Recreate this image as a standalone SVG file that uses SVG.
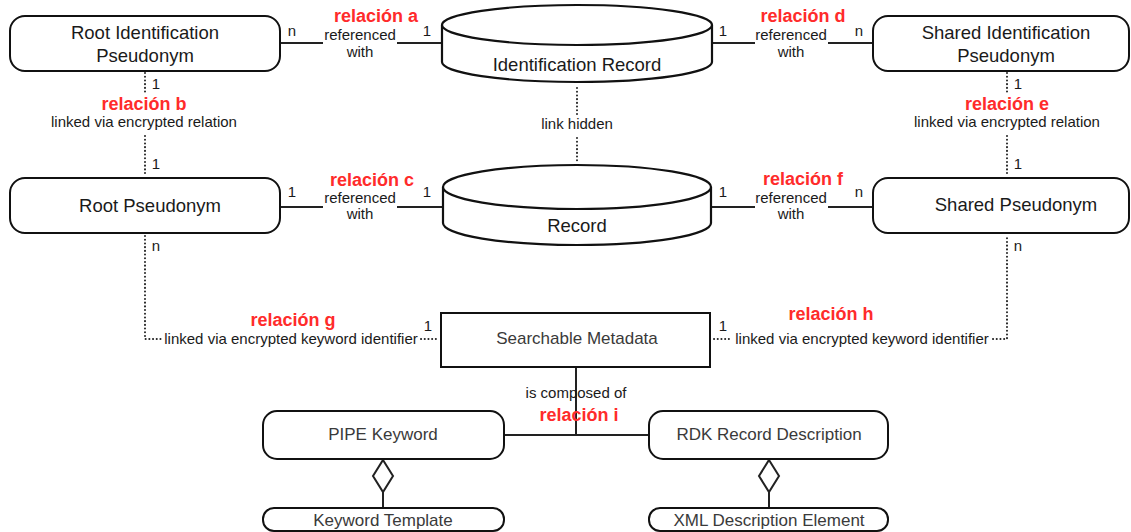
<svg xmlns="http://www.w3.org/2000/svg" width="1131" height="532" viewBox="0 0 1131 532">
  <style>
    .box { fill: #fff; stroke: #111; stroke-width: 2; }
    .cyl { fill: #fff; stroke: #111; stroke-width: 2.2; }
    .line { fill: none; stroke: #222; stroke-width: 2; }
    .dots { fill: none; stroke: #222; stroke-width: 2; stroke-dasharray: 0.1 3.6; stroke-linecap: round; }
    .name { font-family: "Liberation Sans", Arial, sans-serif; font-size: 18.5px; fill: #1a1a1a; text-anchor: middle; }
    .meta { font-family: "Liberation Sans", Arial, sans-serif; font-size: 17px; fill: #3a3a3a; text-anchor: middle; }
    .lbl { font-family: "Liberation Sans", Arial, sans-serif; font-size: 15px; fill: #1a1a1a; text-anchor: middle; }
    .card { font-family: "Liberation Sans", Arial, sans-serif; font-size: 15px; fill: #1a1a1a; text-anchor: middle; }
    .rel { font-family: "Liberation Sans", Arial, sans-serif; font-size: 18px; font-weight: bold; fill: #ff2b2b; text-anchor: middle; }
  </style>

  <!-- connectors -->
  <g id="connectors">
    <!-- referenced with -->
    <path class="line" d="M280 43 H323 M397 43 H442"/>
    <path class="line" d="M712 43 H755 M828 43 H873"/>
    <path class="line" d="M280 207 H323 M397 207 H443"/>
    <path class="line" d="M710 207 H755 M828 207 H873"/>
    <!-- encrypted relations -->
    <path class="dots" d="M145 73 V95 M145 136 V176"/>
    <path class="dots" d="M1007 73 V95 M1007 136 V176"/>
    <!-- hidden link -->
    <path class="dots" d="M577 88 V114 M577 138 V161"/>
    <!-- keyword identifiers -->
    <path class="dots" d="M145 236 V339 H161 M421 339 H438"/>
    <path class="dots" d="M714 339 H730 M993 339 H1007 V236"/>
    <!-- composition -->
    <path class="line" d="M576 367 V435 M504 435 H649"/>
    <!-- aggregation -->
    <path class="line" d="M383 492 V508 M769 492 V508"/>
    <path class="line" fill="#fff" d="M383 460 L393 476 L383 492 L373 476 Z"/>
    <path class="line" fill="#fff" d="M769 460 L779 476 L769 492 L759 476 Z"/>
  </g>

  <!-- connector labels -->
  <g id="labels">
    <text class="rel" x="376" y="22">relación a</text>
    <text class="lbl" x="360" y="40">referenced</text>
    <text class="lbl" x="360" y="57">with</text>
    <text class="card" x="292" y="36">n</text>
    <text class="card" x="427" y="36">1</text>

    <text class="rel" x="803" y="22">relación d</text>
    <text class="lbl" x="791" y="40">referenced</text>
    <text class="lbl" x="791" y="57">with</text>
    <text class="card" x="723" y="36">1</text>
    <text class="card" x="859" y="36">n</text>

    <text class="card" x="156" y="89">1</text>
    <text class="rel" x="144" y="110">relación b</text>
    <text class="lbl" x="144" y="127">linked via encrypted relation</text>
    <text class="card" x="156" y="169">1</text>

    <text class="card" x="1018" y="89">1</text>
    <text class="rel" x="1007" y="110">relación e</text>
    <text class="lbl" x="1007" y="127">linked via encrypted relation</text>
    <text class="card" x="1018" y="169">1</text>

    <text class="lbl" x="577" y="129">link hidden</text>

    <text class="rel" x="372" y="186">relación c</text>
    <text class="lbl" x="360" y="203">referenced</text>
    <text class="lbl" x="360" y="219">with</text>
    <text class="card" x="292" y="197">1</text>
    <text class="card" x="427" y="197">1</text>

    <text class="rel" x="803" y="185">relación f</text>
    <text class="lbl" x="791" y="203">referenced</text>
    <text class="lbl" x="791" y="219">with</text>
    <text class="card" x="723" y="197">1</text>
    <text class="card" x="859" y="197">n</text>

    <text class="card" x="156" y="251">n</text>
    <text class="card" x="1018" y="251">n</text>

    <text class="rel" x="293" y="326">relación g</text>
    <text class="lbl" x="291" y="344">linked via encrypted keyword identifier</text>
    <text class="card" x="428" y="331">1</text>

    <text class="rel" x="831" y="320">relación h</text>
    <text class="lbl" x="862" y="344">linked via encrypted keyword identifier</text>
    <text class="card" x="723" y="331">1</text>

    <text class="lbl" x="576" y="398">is composed of</text>
    <text class="rel" x="579" y="421">relación i</text>
  </g>

  <g id="root-identification-pseudonym">
    <rect class="box" x="10" y="16" width="270" height="55" rx="15"/>
    <text class="name" x="145" y="39">Root Identification</text>
    <text class="name" x="145" y="62">Pseudonym</text>
  </g>

  <g id="identification-record">
    <path class="cyl" d="M442 25 A135 20 0 0 1 712 25 V62 A135 20 0 0 1 442 62 Z"/>
    <path class="cyl" fill="none" d="M442 25 A135 20 0 0 0 712 25"/>
    <text class="name" x="577" y="71">Identification Record</text>
  </g>

  <g id="shared-identification-pseudonym">
    <rect class="box" x="873" y="16" width="256" height="55" rx="15"/>
    <text class="name" x="1006" y="39">Shared Identification</text>
    <text class="name" x="1006" y="62">Pseudonym</text>
  </g>

  <g id="root-pseudonym">
    <rect class="box" x="10" y="178" width="270" height="55" rx="15"/>
    <text class="name" x="150" y="212">Root  Pseudonym</text>
  </g>

  <g id="record">
    <path class="cyl" d="M443 187 A134 22 0 0 1 711 187 V223 A134 22 0 0 1 443 223 Z"/>
    <path class="cyl" fill="none" d="M443 187 A134 22 0 0 0 711 187"/>
    <text class="name" x="577" y="232">Record</text>
  </g>

  <g id="shared-pseudonym">
    <rect class="box" x="873" y="178" width="256" height="55" rx="15"/>
    <text class="name" x="1016" y="211">Shared Pseudonym</text>
  </g>

  <g id="searchable-metadata">
    <rect class="box" x="441" y="313" width="269" height="54"/>
    <text class="meta" x="577" y="344">Searchable Metadata</text>
  </g>

  <g id="pipe-keyword">
    <rect class="box" x="263" y="411" width="241" height="48" rx="14"/>
    <text class="meta" x="383" y="440">PIPE Keyword</text>
  </g>

  <g id="rdk-record-description">
    <rect class="box" x="649" y="411" width="239" height="48" rx="14"/>
    <text class="meta" x="769" y="440">RDK Record Description</text>
  </g>

  <g id="keyword-template">
    <rect class="box" x="263" y="508" width="241" height="23" rx="11"/>
    <text class="meta" x="383" y="526">Keyword Template</text>
  </g>

  <g id="xml-description-element">
    <rect class="box" x="649" y="508" width="239" height="23" rx="11"/>
    <text class="meta" x="769" y="526">XML Description Element</text>
  </g>
</svg>
